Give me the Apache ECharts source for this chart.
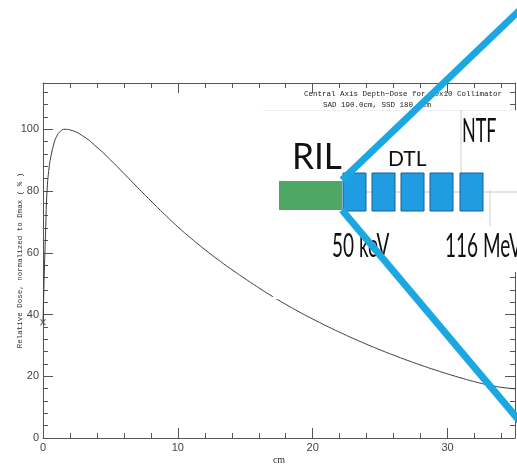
<!DOCTYPE html>
<html>
<head>
<meta charset="utf-8">
<script src="https://cdn.jsdelivr.net/npm/echarts@6/dist/echarts.min.js"></script>
<style>
  html, body { margin: 0; padding: 0; background: #fff; }
  #chart { width: 517px; height: 464px; }
</style>
</head>
<body>
<div id="chart"></div>
<script>
// Central-axis depth-dose curve (depth in cm, dose in % of Dmax)
const depthCm = [0, 0.05, 0.1, 0.2, 0.3, 0.45, 0.6, 0.8, 1.0, 1.3, 1.63, 2.0, 3,
  4, 5, 6, 7, 8, 9, 10, 11, 12, 13, 14, 15, 16, 17, 18, 19, 20,
  21, 22, 23, 24, 25, 26, 27, 28, 29, 30, 31, 32, 33, 34, 35];
const relDose = [37.5, 46, 54, 68, 80, 87.5, 91.5, 95.2, 97.6, 99.4, 100, 99.8, 97.7,
  94.2, 90.1, 85.7, 81.2, 76.8, 72.5, 68.4, 64.6, 61.05, 57.7, 54.55, 51.55, 48.65, 45.9, 43.3, 40.85, 38.55,
  36.35, 34.25, 32.25, 30.35, 28.55, 26.83, 25.19, 23.63, 22.15, 20.75, 19.45, 18.25, 17.2, 16.4, 15.95];

// Measured surface dose marker
const surfaceDepth = [0];
const surfaceDose = [37.5];

// Axis ranges and tick steps
const xRange = [0, 35];
const yRange = [0, 115];
const xMajorStep = 10, xMinorStep = 2;
const yMajorStep = 20, yMinorStep = 4;

// Titles
const titleLine1 = 'Central Axis Depth\u2212Dose for 10x10 Collimator';
const titleLine2 = 'SAD 190.0cm, SSD 180.0cm';
const yTitle = 'Relative Dose, normalized to Dmax ( % )';
const xTitle = 'cm';

const axisColor = '#555';
const labelFont = 'Liberation Sans';
const monoFont = 'Liberation Mono';

function makeAxis(pos, range, step, tickLen, withLabels, major) {
  return {
    type: 'value',
    position: pos,
    min: range[0],
    max: range[1],
    interval: step,
    axisLine: { show: withLabels, onZero: false, lineStyle: { color: axisColor, width: 1 } },
    axisTick: { show: true, inside: true, length: tickLen, lineStyle: { color: axisColor, width: 1 } },
    axisLabel: withLabels ? {
      show: true,
      margin: 4,
      color: '#444',
      fontFamily: labelFont,
      fontSize: 11,
      formatter: v => (v % major === 0 ? String(v) : '')
    } : { show: false },
    splitLine: { show: false }
  };
}

const xAxes = [
  Object.assign(makeAxis('bottom', xRange, xMajorStep, 10, true, xMajorStep), {
    name: xTitle, nameLocation: 'middle', nameGap: 17, nameMoveOverlap: false,
    nameTextStyle: { fontFamily: 'Liberation Serif', fontSize: 10, color: '#333' }
  }),
  makeAxis('bottom', xRange, xMinorStep, 5, false),
  Object.assign(makeAxis('top', xRange, xMajorStep, 10, false), { axisLine: { show: true, onZero: false, lineStyle: { color: axisColor } } }),
  makeAxis('top', xRange, xMinorStep, 5, false)
];
const yAxes = [
  Object.assign(makeAxis('left', yRange, yMajorStep, 10, true, yMajorStep), {
    name: yTitle, nameLocation: 'middle', nameGap: 19, nameRotate: 90, nameMoveOverlap: false,
    nameTextStyle: { fontFamily: monoFont, fontSize: 7.5, color: '#333' }
  }),
  makeAxis('left', yRange, yMinorStep, 5, false),
  Object.assign(makeAxis('right', yRange, yMajorStep, 10, false), { axisLine: { show: true, onZero: false, lineStyle: { color: axisColor } } }),
  makeAxis('right', yRange, yMinorStep, 5, false)
];

const curve = depthCm.map((d, i) => [d, relDose[i]]);
const surface = surfaceDepth.map((d, i) => [d, surfaceDose[i]]);

// Accelerator sketch laid over the upper right of the plot
const beamBlue = '#1ba8e2';
const tankBlue = '#1f9ce2';
const tankEdge = '#1d5f95';
const tankX = [343, 372, 401, 430, 460];

const overlay = [
  { type: 'rect', z: 60, shape: { x: 263, y: 110, width: 260, height: 162 }, style: { fill: '#fff' } },
  { type: 'line', z: 60, shape: { x1: 263, y1: 110.5, x2: 517, y2: 110.5 }, style: { stroke: '#eeeeee', lineWidth: 1 } },
  { type: 'rect', z: 60, shape: { x: 273, y: 268, width: 55, height: 31 }, style: { fill: 'rgba(255,255,255,0.97)' } },
  { type: 'line', z: 61, shape: { x1: 333, y1: 192, x2: 517, y2: 192 }, style: { stroke: '#c4c8d8', lineWidth: 1 } },
  { type: 'line', z: 61, shape: { x1: 461, y1: 110, x2: 461, y2: 174 }, style: { stroke: '#cfcfcf', lineWidth: 1 } },
  { type: 'line', z: 61, shape: { x1: 490, y1: 190, x2: 490, y2: 226 }, style: { stroke: '#cfcfcf', lineWidth: 1 } },
  { type: 'rect', z: 62, shape: { x: 279, y: 181, width: 63, height: 29 }, style: { fill: '#4fa765' } }
].concat(tankX.map(x => ({
  type: 'rect', z: 62, shape: { x: x, y: 173, width: 23, height: 38 },
  style: { fill: tankBlue, stroke: tankEdge, lineWidth: 1 }
}))).concat([
  { type: 'text', z: 63, x: 292, y: 157, scaleX: 0.95, scaleY: 1,
    style: { text: 'RIL', fill: '#111', font: '37px Lato', verticalAlign: 'middle', align: 'left' } },
  { type: 'text', z: 63, x: 388, y: 159, scaleX: 1, scaleY: 1,
    style: { text: 'DTL', fill: '#111', font: '21px Lato', verticalAlign: 'middle', align: 'left' } },
  { type: 'text', z: 63, x: 462, y: 131, scaleX: 0.9, scaleY: 1.65,
    style: { text: 'NTF', fill: '#111', font: '20px Lato', verticalAlign: 'middle', align: 'left' } },
  { type: 'text', z: 63, x: 332, y: 246, scaleX: 0.95, scaleY: 1.65,
    style: { text: '50 keV', fill: '#111', font: '20px Lato', verticalAlign: 'middle', align: 'left' } },
  { type: 'text', z: 63, x: 445, y: 246, scaleX: 0.95, scaleY: 1.65,
    style: { text: '116 MeV', fill: '#111', font: '20px Lato', verticalAlign: 'middle', align: 'left' } },
  { type: 'polyline', z: 70, shape: { points: [[522, 8], [342, 180]] }, style: { stroke: beamBlue, lineWidth: 7, fill: null } },
  { type: 'polyline', z: 70, shape: { points: [[342, 210], [522, 424]] }, style: { stroke: beamBlue, lineWidth: 7, fill: null } }
]);

const titles = [
  { type: 'text', z: 50, x: 304, y: 94, style: { text: titleLine1, fill: '#222', font: '7.5px "Liberation Mono"', verticalAlign: 'middle' } },
  { type: 'text', z: 50, x: 323, y: 105, style: { text: titleLine2, fill: '#222', font: '7.5px "Liberation Mono"', verticalAlign: 'middle' } }
];

const chart = echarts.init(document.getElementById('chart'), null, { renderer: 'canvas' });
chart.setOption({
  animation: false,
  backgroundColor: '#fff',
  grid: { left: 43, right: 2, top: 83, bottom: 26, containLabel: false, outerBoundsMode: 'none' },
  xAxis: xAxes,
  yAxis: yAxes,
  series: [
    {
      type: 'line', xAxisIndex: 0, yAxisIndex: 0, data: curve,
      showSymbol: false, smooth: 0.5, clip: false,
      lineStyle: { color: '#3a3a3a', width: 1 }, z: 5
    },
    {
      type: 'scatter', xAxisIndex: 0, yAxisIndex: 0, data: surface, clip: false,
      symbol: 'path://M0,0L10,10M10,0L0,10', symbolSize: [5, 6],
      itemStyle: { color: 'none', borderColor: '#444', borderWidth: 1 }, z: 6
    }
  ],
  graphic: titles.concat(overlay)
});
</script>
</body>
</html>
